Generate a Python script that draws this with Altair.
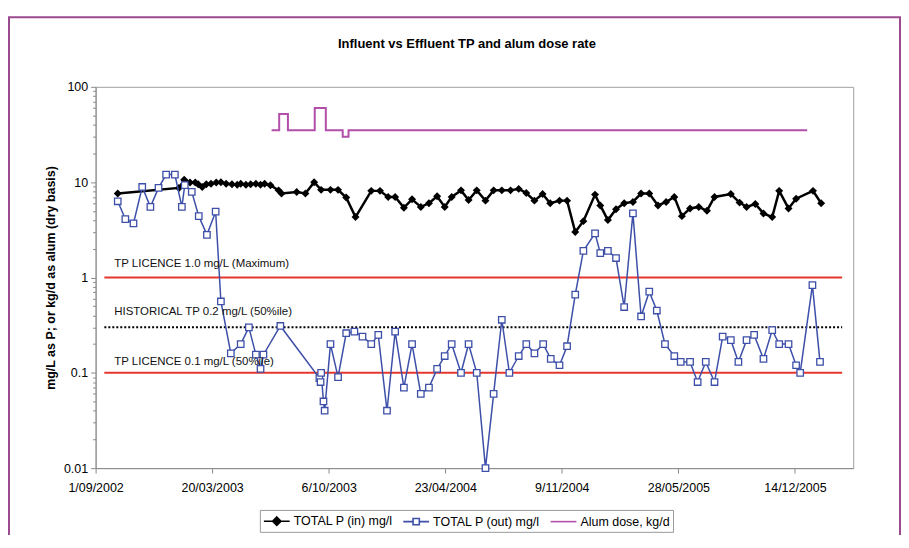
import altair as alt
import pandas as pd

# ---------------- data ----------------
in_dates = ["2002-10-09", "2003-01-22", "2003-01-31", "2003-02-10", "2003-02-19", "2003-02-24",
            "2003-03-03", "2003-03-10", "2003-03-18", "2003-03-27", "2003-04-04", "2003-04-13",
            "2003-04-23", "2003-05-02", "2003-05-08", "2003-05-17", "2003-05-25", "2003-06-03",
            "2003-06-11", "2003-06-18", "2003-06-28", "2003-07-12", "2003-07-17", "2003-08-12",
            "2003-08-27", "2003-09-11", "2003-09-23", "2003-10-09", "2003-10-22", "2003-11-05",
            "2003-11-21", "2003-12-18", "2004-01-02", "2004-01-16", "2004-01-28", "2004-02-12",
            "2004-02-26", "2004-03-12", "2004-03-26", "2004-04-09", "2004-04-22", "2004-05-04",
            "2004-05-20", "2004-06-02", "2004-06-16", "2004-07-01", "2004-07-15", "2004-07-29",
            "2004-08-13", "2004-08-27", "2004-09-09", "2004-09-23", "2004-10-07", "2004-10-20",
            "2004-11-05", "2004-11-18", "2004-12-02", "2004-12-16", "2005-01-05", "2005-01-14",
            "2005-01-27", "2005-02-10", "2005-02-24", "2005-03-11", "2005-03-25", "2005-04-08",
            "2005-04-23", "2005-05-07", "2005-05-21", "2005-06-03", "2005-06-17", "2005-07-02",
            "2005-07-16", "2005-07-29", "2005-08-26", "2005-09-10", "2005-09-22", "2005-10-07",
            "2005-10-21", "2005-11-05", "2005-11-17", "2005-12-03", "2005-12-16", "2006-01-14",
            "2006-01-28"]
in_values = [7.6, 8.7, 10.6, 9.9, 9.9, 9.5,
             8.9, 9.5, 9.6, 9.9, 10.0, 9.6,
             9.5, 9.4, 9.6, 9.4, 9.5, 9.6,
             9.4, 9.6, 9.3, 8.2, 7.6, 7.9,
             7.6, 10.0, 8.3, 8.3, 8.3, 6.9,
             4.3, 8.1, 8.1, 7.0, 7.0, 5.4,
             6.6, 5.5, 6.0, 7.1, 5.5, 7.0,
             8.2, 6.5, 8.2, 6.4, 8.2, 8.2,
             8.2, 8.5, 7.7, 6.4, 7.5, 6.0,
             6.4, 6.4, 3.0, 3.9, 7.4, 5.7,
             4.0, 5.2, 6.0, 6.2, 7.6, 7.6,
             5.7, 6.2, 7.0, 4.4, 5.3, 5.5,
             5.0, 7.0, 7.5, 6.1, 5.5, 5.9,
             4.7, 4.3, 8.1, 5.3, 6.7, 8.1,
             6.0]

out_dates = ["2002-10-09", "2002-10-22", "2002-11-05", "2002-11-20", "2002-12-04", "2002-12-18",
             "2002-12-31", "2003-01-15", "2003-01-27", "2003-02-01", "2003-02-13", "2003-02-25",
             "2003-03-11", "2003-03-26", "2003-04-04", "2003-04-21", "2003-05-08", "2003-05-22",
             "2003-06-03", "2003-06-11", "2003-06-16", "2003-07-15", "2003-09-20", "2003-09-22",
             "2003-09-23", "2003-09-27", "2003-09-29", "2003-10-09", "2003-10-22", "2003-11-05",
             "2003-11-19", "2003-12-03", "2003-12-18", "2003-12-30", "2004-01-14", "2004-01-28",
             "2004-02-12", "2004-02-26", "2004-03-12", "2004-03-26", "2004-04-09", "2004-04-22",
             "2004-05-04", "2004-05-20", "2004-06-02", "2004-06-16", "2004-07-01", "2004-07-15",
             "2004-07-29", "2004-08-11", "2004-08-27", "2004-09-09", "2004-09-23", "2004-10-08",
             "2004-10-21", "2004-11-05", "2004-11-18", "2004-12-02", "2004-12-16", "2005-01-05",
             "2005-01-14", "2005-01-27", "2005-02-10", "2005-02-24", "2005-03-11", "2005-03-25",
             "2005-04-08", "2005-04-21", "2005-05-05", "2005-05-21", "2005-06-01", "2005-06-17",
             "2005-06-30", "2005-07-14", "2005-07-29", "2005-08-12", "2005-08-26", "2005-09-08",
             "2005-09-22", "2005-10-05", "2005-10-21", "2005-11-05", "2005-11-17", "2005-12-03",
             "2005-12-16", "2005-12-23", "2006-01-13", "2006-01-26"]
out_values = [6.3, 4.1, 3.7, 8.9, 5.5, 8.7,
              12.0, 12.0, 5.5, 9.3, 7.9, 4.4,
              2.8, 4.9, 0.56, 0.16, 0.20, 0.30,
              0.155, 0.11, 0.155, 0.31, 0.088, 0.08,
              0.10, 0.05, 0.04, 0.20, 0.09, 0.26,
              0.27, 0.24, 0.20, 0.25, 0.04, 0.27,
              0.07, 0.20, 0.06, 0.07, 0.11, 0.15,
              0.20, 0.10, 0.20, 0.10, 0.01, 0.06,
              0.36, 0.10, 0.15, 0.20, 0.16, 0.20,
              0.14, 0.12, 0.19, 0.66, 1.9, 2.9,
              1.8, 1.9, 1.6, 0.49, 4.7, 0.39,
              0.71, 0.45, 0.20, 0.15, 0.13, 0.13,
              0.08, 0.13, 0.08, 0.24, 0.22, 0.13,
              0.22, 0.25, 0.14, 0.28, 0.20, 0.20,
              0.12, 0.10, 0.83, 0.13]

alum_dates = ["2003-06-30", "2003-07-13", "2003-07-28", "2003-09-12", "2003-10-01",
              "2003-10-30", "2003-11-09", "2006-01-04"]
alum_values = [35, 52, 35, 60, 35, 30, 35, 35]

series_names = ["TOTAL P (in) mg/l", "TOTAL P (out) mg/l", "Alum dose, kg/d"]

limit_values = [1.0, 0.1]
hist_value = 0.3
ref_start, ref_end = "2002-09-16", "2006-03-05"

note_texts = ["TP LICENCE 1.0 mg/L (Maximum)", "HISTORICAL TP 0.2 mg/L (50%ile)",
              "TP LICENCE 0.1 mg/L (50%ile)"]
note_date = "2002-10-03"
note_values = [1.38, 0.43, 0.131]

title_text = "Influent vs Effluent TP and alum dose rate"
y_title = "mg/L as P; or kg/d as alum (dry basis)"

# ---------------- build ----------------
START = pd.Timestamp("2002-09-01")


def to_days(dates):
    return [(pd.Timestamp(d) - START).days for d in dates]


in_df = pd.DataFrame({"day": to_days(in_dates), "value": in_values, "series": series_names[0]})
out_df = pd.DataFrame({"day": to_days(out_dates), "value": out_values, "series": series_names[1]})
alum_df = pd.DataFrame({"day": to_days(alum_dates), "value": alum_values, "series": series_names[2]})
limit_df = pd.DataFrame({"day": to_days([ref_start] * len(limit_values)),
                         "day2": to_days([ref_end] * len(limit_values)),
                         "value": limit_values})
hist_df = pd.DataFrame({"day": to_days([ref_start]), "day2": to_days([ref_end]), "value": [hist_value]})
note_df = pd.DataFrame({"day": to_days([note_date] * 3), "value": note_values, "label": note_texts})

FONT = "Liberation Sans"
BLACK = "#000000"
BLUE = "#3d4fa8"
MAGENTA = "#b24fab"
RED = "#e6372e"
AXIS_GREY = "#8a8a8a"

decade_test = "abs(log(datum.value)/LN10 - round(log(datum.value)/LN10)) < 0.001"
y_ticks = sorted([10.0 ** e for e in range(-2, 3)] +
                 [m * 10.0 ** e for e in range(-2, 2) for m in range(2, 10)])

x_enc = alt.X(
    "day:Q",
    scale=alt.Scale(domain=[0, 1300], nice=False, zero=False),
    axis=alt.Axis(
        values=[0, 200, 400, 600, 800, 1000, 1200],
        labelExpr="utcFormat(utc(2002, 8, 1) + datum.value * 86400000, '%-d/%m/%Y')",
        title=None, grid=False, labelFont=FONT, labelFontSize=12.5, labelColor="#000",
        domainColor=AXIS_GREY, tickColor=AXIS_GREY, tickSize=5, labelPadding=8,
        labelFlush=False, labelOverlap=False,
    ),
)
y_enc = alt.Y(
    "value:Q",
    scale=alt.Scale(type="log", domain=[0.01, 100], nice=False),
    axis=alt.Axis(
        values=y_ticks, format="~g",
        labelExpr=f"({decade_test}) ? datum.label : ''",
        tickSize={"condition": {"test": decade_test, "value": 5}, "value": 3},
        title=y_title, titleFont=FONT, titleFontSize=12.5, titleFontWeight="bold",
        titleColor="#000", titlePadding=6,
        grid=False, labelFont=FONT, labelFontSize=12.5, labelColor="#000",
        domainColor=AXIS_GREY, tickColor=AXIS_GREY, labelPadding=3,
        labelOverlap=False, labelFlush=False,
    ),
)

frame = alt.Chart(pd.DataFrame({"a": [0]})).mark_rect(
    fillOpacity=0, stroke="#9c4a90", strokeWidth=2
).encode(x=alt.value(-87), x2=alt.value(808), y=alt.value(-70), y2=alt.value(470))

title_mark = alt.Chart(pd.DataFrame({"t": [title_text]})).mark_text(
    font=FONT, fontSize=13, fontWeight="bold", color="#000", align="center", baseline="middle"
).encode(text="t:N", x=alt.value(373), y=alt.value(-43))

limits = alt.Chart(limit_df).mark_rule(color=RED, strokeWidth=2).encode(
    x=x_enc, x2="day2:Q", y=y_enc)
hist = alt.Chart(hist_df).mark_rule(color=BLACK, strokeWidth=2, strokeDash=[2, 2]).encode(
    x=x_enc, x2="day2:Q", y=y_enc)
notes = alt.Chart(note_df).mark_text(
    align="left", baseline="middle", font=FONT, fontSize=11.5, color="#111"
).encode(x=x_enc, y=y_enc, text="label:N")

alum_line = alt.Chart(alum_df).mark_line(
    interpolate="step-after", color=MAGENTA, strokeWidth=2).encode(x=x_enc, y=y_enc)

in_line = alt.Chart(in_df).mark_line(color=BLACK, strokeWidth=2.5).encode(x=x_enc, y=y_enc)
in_pts = alt.Chart(in_df).mark_point(
    shape="diamond", filled=True, color=BLACK, size=64, opacity=1).encode(x=x_enc, y=y_enc)

out_line = alt.Chart(out_df).mark_line(color=BLUE, strokeWidth=1.5).encode(x=x_enc, y=y_enc)
out_pts = alt.Chart(out_df).mark_point(
    shape="square", filled=True, fill="white", stroke=BLUE, strokeWidth=1.3, size=42, opacity=1
).encode(x=x_enc, y=y_enc)

legend_kw = dict(orient="none", legendX=165, legendY=425, direction="horizontal", columns=3,
                 title=None, strokeColor="#999", fillColor="white", padding=3,
                 symbolSize=196, symbolStrokeWidth=1.6, symbolOffset=6,
                 labelFont=FONT, labelFontSize=12.5,
                 labelColor="#000", columnPadding=6, labelOffset=9)
sym_in = "M-1.85,0H1.85M0,-0.6L0.6,0L0,0.6L-0.6,0Z"
sym_out = "M-1.85,0H-0.45M0.45,0H1.85M-0.45,-0.45H0.45V0.45H-0.45Z"
sym_alum = "M-1.85,0H1.85"
legend_layer = alt.Chart(in_df).mark_point(opacity=1).encode(
    x=x_enc, y=y_enc,
    stroke=alt.Stroke("series:N", scale=alt.Scale(domain=series_names, range=[BLACK, BLUE, MAGENTA]),
                      legend=alt.Legend(**legend_kw)),
    fill=alt.Fill("series:N", scale=alt.Scale(domain=series_names, range=[BLACK, "white", "transparent"]),
                  legend=alt.Legend(**legend_kw)),
    shape=alt.Shape("series:N", scale=alt.Scale(domain=series_names, range=[sym_in, sym_out, sym_alum]),
                    legend=alt.Legend(**legend_kw)),
).transform_filter("false")

chart = alt.layer(
    frame, title_mark, limits, hist, alum_line, in_line, in_pts, out_line, out_pts, notes, legend_layer
).properties(
    width=761, height=383,
    autosize=alt.AutoSizeParams(type="none"),
    padding={"left": 88, "top": 78, "right": 48, "bottom": 66},
    background="white",
).configure_view(stroke="#a0a0a0", strokeWidth=1)

chart.save("out.html", embed_options={"renderer": "svg", "actions": False})
